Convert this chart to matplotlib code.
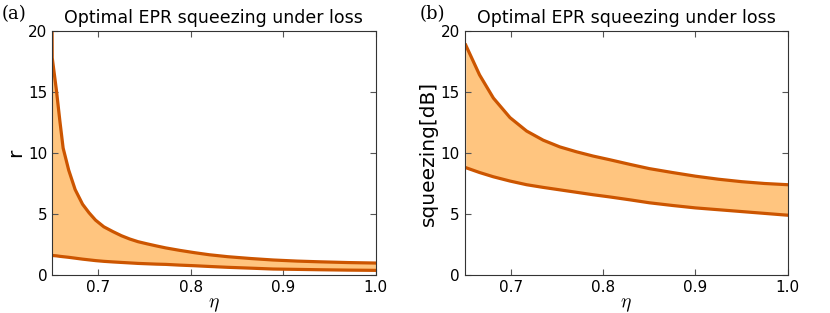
import matplotlib
matplotlib.use('Agg')
import matplotlib.pyplot as plt

plt.rcParams['mathtext.fontset'] = 'cm'

# (a) squeezing parameter r versus efficiency eta
eta_a = [0.650, 0.6502, 0.6548, 0.6585, 0.662, 0.668, 0.675, 0.683, 0.690,
         0.697, 0.706, 0.716, 0.725, 0.734, 0.743, 0.753, 0.763, 0.773,
         0.788, 0.804, 0.82, 0.84, 0.865, 0.889, 0.915, 0.94, 0.97, 1.00]
r_upper = [20.5, 17.8, 15.1, 12.6, 10.4, 8.6, 7.0, 5.8, 5.1,
           4.5, 3.95, 3.55, 3.22, 2.95, 2.73, 2.55, 2.38, 2.22,
           2.02, 1.83, 1.66, 1.5, 1.35, 1.23, 1.14, 1.08, 1.02, 0.98]
r_lower = [1.6, 1.6, 1.57, 1.53, 1.5, 1.45, 1.38, 1.3, 1.24,
           1.18, 1.12, 1.07, 1.03, 0.99, 0.95, 0.92, 0.89, 0.87,
           0.81, 0.76, 0.7, 0.63, 0.56, 0.49, 0.46, 0.43, 0.4, 0.38]

# (b) squeezing in dB versus efficiency eta
eta_b = [0.651, 0.666, 0.681, 0.699, 0.717, 0.735, 0.753, 0.771, 0.789,
         0.807, 0.83, 0.85, 0.875, 0.90, 0.925, 0.95, 0.975, 1.00]
db_upper = [18.85, 16.4, 14.5, 12.9, 11.8, 11.05, 10.5, 10.1, 9.75,
            9.45, 9.05, 8.72, 8.4, 8.1, 7.85, 7.65, 7.5, 7.4]
db_lower = [8.8, 8.4, 8.05, 7.7, 7.4, 7.18, 6.98, 6.78, 6.58,
            6.4, 6.15, 5.92, 5.7, 5.5, 5.35, 5.2, 5.05, 4.9]

line_c = '#cc5500'
fill_c = '#ffc57f'

fig = plt.figure(figsize=(8.3, 3.13), dpi=100)
ax1 = fig.add_axes([0.0627, 0.1214, 0.39, 0.7796])
ax2 = fig.add_axes([0.560, 0.1214, 0.389, 0.7796])

panels = [(ax1, eta_a, r_upper, r_lower, 'r'),
          (ax2, eta_b, db_upper, db_lower, 'squeezing[dB]')]
for ax, x, up, lo, ylab in panels:
    ax.fill_between(x, lo, up, color=fill_c, lw=0)
    ax.plot(x, up, color=line_c, lw=2.3)
    ax.plot(x, lo, color=line_c, lw=2.3)
    ax.set_xlim(0.65, 1.0)
    ax.set_ylim(0, 20)
    ax.set_xticks([0.7, 0.8, 0.9, 1.0])
    ax.set_yticks([0, 5, 10, 15, 20])
    ax.tick_params(direction='in', top=True, right=True, labelsize=11,
                   length=4, color='#555555')
    for s in ax.spines.values():
        s.set_color('#333333')
        s.set_linewidth(0.8)
    ax.set_xlabel(r'$\eta$', fontsize=14, labelpad=0)
    ax.set_ylabel(ylab, fontsize=14.5, labelpad=2)
    ax.set_title('Optimal EPR squeezing under loss', fontsize=12.5, pad=6)

fig.text(0.002, 0.955, '(a)', fontsize=13, family='DejaVu Serif', va='center')
fig.text(0.506, 0.955, '(b)', fontsize=13, family='DejaVu Serif', va='center')

fig.savefig('out.png', dpi=100)
